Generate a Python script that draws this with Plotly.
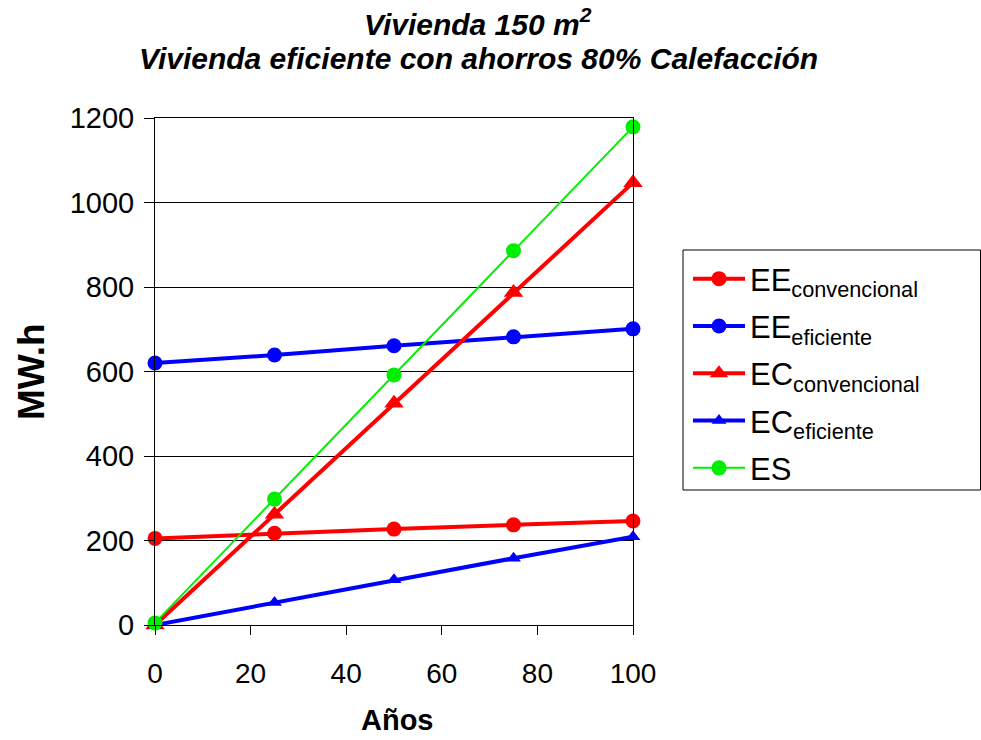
import plotly.graph_objects as go

anos = [0, 25, 50, 75, 100]
ee_convencional = [205, 217, 227, 237, 246]
ee_eficiente = [620, 639, 661, 682, 701]
ec_convencional = [0, 262, 525, 787, 1047]
ec_eficiente = [0, 53, 107, 158, 209]
es = [5, 298, 592, 886, 1179]

series = [
    ("EE<sub>convencional</sub>", ee_convencional, "#ff0000", "circle", 15, 4),
    ("EE<sub>eficiente</sub>", ee_eficiente, "#0000ff", "circle", 15, 4),
    ("EC<sub>convencional</sub>", ec_convencional, "#ff0000", "triangle-up", 17, 4),
    ("EC<sub>eficiente</sub>", ec_eficiente, "#0000ff", "triangle-up", 13, 4),
    ("ES", es, "#00ee00", "circle", 15, 2),
]

L, R, T, B, W, H = 155, 348, 118, 115, 981, 740
PW, PH = W - L - R, H - T - B


def px_x(p):
    return (p - L) / PW


def px_y(p):
    return (H - B - p) / PH


fig = go.Figure()
for i, (name, vals, color, sym, msize, lw) in enumerate(series):
    fig.add_trace(go.Scatter(
        x=anos, y=vals, name=name, mode="lines+markers",
        line=dict(color=color, width=lw),
        marker=dict(color=color, symbol=sym, size=msize),
        cliponaxis=False, legendgroup=f"g{i}",
    ))

title_lines = ["Vivienda 150 m<sup>2</sup>", "Vivienda eficiente con ahorros 80% Calefacción"]
for line, ypx in zip(title_lines, [22, 58]):
    fig.add_annotation(
        text=f"<b><i>{line}</i></b>",
        xref="paper", yref="paper", x=px_x(478), y=px_y(ypx),
        xanchor="center", yanchor="middle", showarrow=False,
        font=dict(size=30, color="black"),
    )

# axis titles
fig.add_annotation(
    text="<b>Años</b>", xref="paper", yref="paper",
    x=px_x(397), y=px_y(720), xanchor="center", yanchor="middle",
    showarrow=False, font=dict(size=29, color="black"),
)
fig.add_annotation(
    text="<b>MW.h</b>", xref="paper", yref="paper",
    x=px_x(31), y=px_y(372), xanchor="center", yanchor="middle",
    showarrow=False, textangle=-90, font=dict(size=37, color="black"),
)

# legend frame
fig.add_shape(
    type="rect", xref="paper", yref="paper",
    x0=px_x(683), x1=px_x(980.5), y0=px_y(490), y1=px_y(250),
    line=dict(color="black", width=1), fillcolor="rgba(0,0,0,0)",
)

fig.update_layout(
    width=W, height=H,
    margin=dict(l=L, r=R, t=T, b=B),
    paper_bgcolor="white", plot_bgcolor="white",
    font=dict(family="Liberation Sans, Arial, sans-serif", color="black"),
    xaxis=dict(
        range=[0, 100], tickvals=[0, 20, 40, 60, 80, 100],
        showgrid=False, zeroline=False, automargin=False,
        showline=True, linecolor="black", linewidth=1, mirror=True,
        ticks="outside", ticklen=9, tickcolor="black",
        tickfont=dict(size=28), ticklabelstandoff=14,
    ),
    yaxis=dict(
        range=[0, 1200], tickvals=[0, 200, 400, 600, 800, 1000, 1200],
        showgrid=True, gridcolor="black", gridwidth=1, zeroline=False,
        automargin=False,
        showline=True, linecolor="black", linewidth=1, mirror=True,
        ticks="outside", ticklen=10, tickcolor="black",
        tickfont=dict(size=29), ticklabelstandoff=4,
    ),
    legend=dict(
        x=px_x(688), xanchor="left", y=px_y(252), yanchor="top",
        borderwidth=0, bgcolor="rgba(0,0,0,0)",
        font=dict(size=31, color="black"),
        itemwidth=52, tracegroupgap=4,
    ),
)

fig.write_html("out.html")
